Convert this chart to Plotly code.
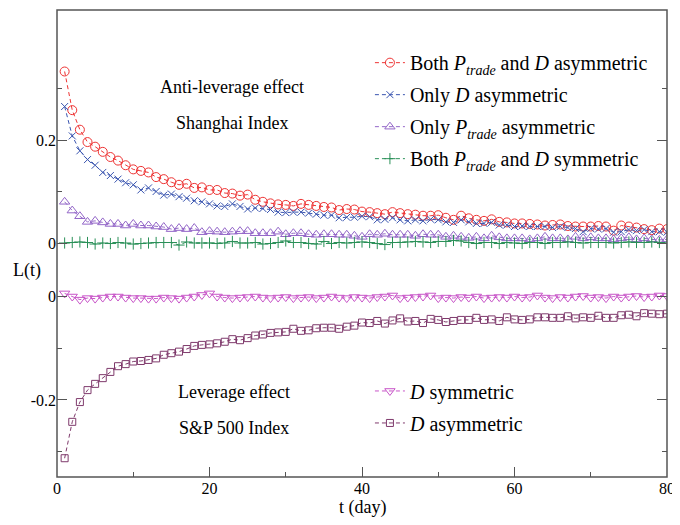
import plotly.graph_objects as go

t = list(range(1, 81))

# Shanghai index (anti-leverage effect), top panel
both_asym = [0.333, 0.258, 0.220, 0.196, 0.187, 0.177, 0.167, 0.160, 0.151, 0.143,
             0.140, 0.137, 0.128, 0.124, 0.118, 0.113, 0.115, 0.107, 0.108, 0.103,
             0.103, 0.097, 0.096, 0.092, 0.094, 0.084, 0.080, 0.077, 0.075, 0.074,
             0.072, 0.076, 0.074, 0.072, 0.070, 0.069, 0.064, 0.066, 0.065, 0.061,
             0.060, 0.058, 0.056, 0.060, 0.058, 0.056, 0.055, 0.053, 0.053, 0.054,
             0.049, 0.045, 0.053, 0.048, 0.045, 0.043, 0.046, 0.041, 0.040, 0.038,
             0.038, 0.037, 0.036, 0.034, 0.035, 0.036, 0.033, 0.032, 0.032, 0.032,
             0.033, 0.032, 0.024, 0.034, 0.032, 0.030, 0.027, 0.025, 0.028, 0.027]
only_d_asym = [0.265, 0.208, 0.179, 0.162, 0.151, 0.137, 0.131, 0.124, 0.117, 0.113,
               0.103, 0.107, 0.100, 0.093, 0.095, 0.090, 0.087, 0.082, 0.080, 0.076,
               0.072, 0.071, 0.076, 0.071, 0.066, 0.068, 0.067, 0.065, 0.060, 0.059,
               0.060, 0.060, 0.058, 0.056, 0.054, 0.054, 0.049, 0.050, 0.050, 0.052,
               0.051, 0.045, 0.046, 0.049, 0.045, 0.043, 0.045, 0.043, 0.046, 0.045,
               0.041, 0.040, 0.045, 0.041, 0.038, 0.038, 0.040, 0.035, 0.035, 0.032,
               0.033, 0.032, 0.032, 0.032, 0.030, 0.032, 0.030, 0.028, 0.022, 0.028,
               0.027, 0.028, 0.021, 0.022, 0.026, 0.024, 0.026, 0.022, 0.022, 0.021]
only_p_asym = [0.080, 0.063, 0.052, 0.041, 0.043, 0.040, 0.037, 0.037, 0.034, 0.037,
               0.034, 0.034, 0.032, 0.031, 0.027, 0.029, 0.027, 0.029, 0.021, 0.023,
               0.022, 0.021, 0.022, 0.023, 0.023, 0.019, 0.019, 0.019, 0.022, 0.017,
               0.019, 0.019, 0.017, 0.016, 0.017, 0.017, 0.016, 0.016, 0.014, 0.012,
               0.017, 0.016, 0.018, 0.016, 0.016, 0.016, 0.014, 0.017, 0.016, 0.016,
               0.012, 0.014, 0.012, 0.010, 0.012, 0.009, 0.014, 0.011, 0.009, 0.009,
               0.009, 0.007, 0.009, 0.012, 0.009, 0.009, 0.007, 0.012, 0.009, 0.011,
               0.009, 0.009, 0.007, 0.009, 0.011, 0.007, 0.009, 0.007, 0.006, 0.007]
both_sym = [0.000, 0.001, 0.002, 0.001, -0.002, 0.000, -0.001, 0.001, 0.000, -0.002,
            -0.001, 0.000, 0.001, 0.001, 0.001, -0.004, 0.002, 0.000, 0.000, 0.000,
            -0.001, 0.000, 0.003, 0.000, 0.000, 0.001, -0.002, -0.001, 0.001, 0.004,
            0.001, 0.001, -0.001, -0.002, 0.003, -0.001, 0.001, 0.000, 0.001, 0.002,
            0.001, -0.001, -0.003, 0.001, 0.001, 0.002, 0.003, 0.002, 0.001, 0.003,
            0.003, 0.005, 0.004, 0.001, -0.001, 0.001, 0.001, -0.001, 0.001, 0.000,
            -0.001, 0.001, 0.001, -0.001, 0.001, 0.001, 0.002, 0.001, 0.000, 0.001,
            0.001, 0.001, 0.000, 0.001, 0.002, 0.001, 0.001, 0.002, 0.001, 0.000]

# S&P 500 (leverage effect), bottom panel
d_sym = [0.005, -0.001, -0.007, -0.004, -0.005, -0.003, -0.001, -0.001, -0.003, -0.004,
         -0.004, -0.005, -0.005, -0.003, -0.004, -0.005, -0.003, -0.001, 0.002, 0.005,
         -0.001, -0.003, -0.004, -0.003, -0.002, -0.001, -0.003, -0.004, -0.003, -0.002,
         -0.004, -0.003, -0.002, -0.004, -0.003, -0.001, -0.003, -0.004, -0.002, -0.003,
         -0.004, -0.002, -0.001, 0.001, -0.004, -0.003, -0.002, -0.001, 0.001, -0.004,
         -0.003, -0.004, -0.002, -0.003, -0.001, -0.004, -0.003, -0.002, -0.003, -0.001,
         -0.003, -0.002, 0.001, -0.003, -0.004, -0.002, -0.003, -0.001, 0.000, -0.003,
         -0.002, -0.004, -0.001, -0.003, -0.001, 0.000, -0.002, -0.001, 0.001, 0.000]
d_asym = [-0.312, -0.242, -0.204, -0.181, -0.169, -0.158, -0.146, -0.135, -0.131, -0.126,
          -0.125, -0.123, -0.120, -0.113, -0.110, -0.107, -0.102, -0.096, -0.094, -0.093,
          -0.091, -0.088, -0.083, -0.085, -0.081, -0.076, -0.074, -0.071, -0.070, -0.069,
          -0.063, -0.067, -0.066, -0.062, -0.061, -0.061, -0.063, -0.059, -0.057, -0.051,
          -0.052, -0.048, -0.053, -0.047, -0.043, -0.049, -0.048, -0.052, -0.044, -0.046,
          -0.050, -0.048, -0.046, -0.046, -0.042, -0.046, -0.045, -0.048, -0.041, -0.045,
          -0.046, -0.045, -0.041, -0.041, -0.042, -0.042, -0.039, -0.043, -0.041, -0.042,
          -0.038, -0.042, -0.042, -0.037, -0.036, -0.039, -0.033, -0.034, -0.035, -0.034]

PT = "<i>P</i><sub><i>trade</i></sub>"
serif = "Liberation Serif, Times New Roman, serif"

fig = go.Figure()

top = [
    (both_asym, "Both " + PT + " and <i>D</i> asymmetric", "circle-open", 9, "#ee3333"),
    (only_d_asym, "Only <i>D</i> asymmetric", "x-thin-open", 7, "#3a55b0"),
    (only_p_asym, "Only " + PT + " asymmetric", "triangle-up-open", 9, "#9366c8"),
    (both_sym, "Both " + PT + " and <i>D</i> symmetric", "cross-thin-open", 8, "#2a9058"),
]
for i, (ys, name, sym, sz, col) in enumerate(top):
    fig.add_trace(go.Scatter(
        x=t, y=ys, name=name, yaxis="y2", legend="legend", legendgroup="a%d" % i,
        mode="lines+markers",
        line=dict(color=col, width=1, dash="4px,3px"),
        marker=dict(symbol=sym, size=sz, color=col, line=dict(width=1, color=col)),
    ))

bottom = [
    (d_sym, "<i>D</i> symmetric", "triangle-down-open", 9, "#c855c8"),
    (d_asym, "<i>D</i> asymmetric", "square-open", 7, "#7f3a6c"),
]
for i, (ys, name, sym, sz, col) in enumerate(bottom):
    fig.add_trace(go.Scatter(
        x=t, y=ys, name=name, yaxis="y", legend="legend2", legendgroup="b%d" % i,
        mode="lines+markers",
        line=dict(color=col, width=1, dash="4px,3px"),
        marker=dict(symbol=sym, size=sz, color=col, line=dict(width=1, color=col)),
    ))

# the page has an 8px body margin, so the figure is shifted by 8px
split = 207 / 467
axcol = "#555555"
tickfont = dict(family=serif, size=16, color="black")

yax_common = dict(
    ticks="inside", ticklen=10, tickwidth=1.3, tickcolor=axcol, mirror="ticks",
    showgrid=False, zeroline=False, showline=False, tickfont=tickfont,
    minor=dict(ticks="inside", ticklen=5, tickwidth=1.3, tickcolor=axcol, showgrid=False),
)

fig.update_layout(
    width=672, height=509,
    margin=dict(l=49, r=13, t=2, b=40),
    font=dict(family=serif, color="black"),
    plot_bgcolor="white", paper_bgcolor="white",
    xaxis=dict(range=[0, 80], tickvals=[0, 20, 40, 60, 80], ticks="inside", ticklen=10,
               tickwidth=1.3, tickcolor=axcol, showgrid=False, zeroline=False,
               showline=False, tickfont=tickfont, anchor="y", ticklabeloverflow="allow",
               minor=dict(tickvals=[10, 30, 50, 70], ticks="inside", ticklen=5,
                          tickwidth=1.3, tickcolor=axcol, showgrid=False)),
    xaxis2=dict(range=[0, 80], overlaying="x", side="top", anchor="y2",
                tickvals=[0, 20, 40, 60, 80], ticks="inside", ticklen=10,
                tickwidth=1.3, tickcolor=axcol, showticklabels=False,
                showgrid=False, zeroline=False, showline=False,
                minor=dict(tickvals=[10, 30, 50, 70], ticks="inside", ticklen=5,
                           tickwidth=1.3, tickcolor=axcol, showgrid=False)),
    yaxis=dict(domain=[0, split], range=[-0.3481, 0.05], tickvals=[-0.2, 0],
               ticktext=["-0.2", "0"], **yax_common),
    yaxis2=dict(domain=[split, 1], range=[-0.0524, 0.4524], tickvals=[0, 0.2],
                ticktext=["0", "0.2"], anchor="x", **yax_common),
    showlegend=True,
    legend=dict(x=0.513, xanchor="left", y=0.929, yanchor="top",
                bgcolor="rgba(0,0,0,0)", font=dict(family=serif, size=20, color="black"),
                itemwidth=30, tracegroupgap=3),
    legend2=dict(x=0.513, xanchor="left", y=0.226, yanchor="top",
                 bgcolor="rgba(0,0,0,0)", font=dict(family=serif, size=20, color="black"),
                 itemwidth=30, tracegroupgap=3),
)
fig.layout.yaxis.minor.tickvals = [-0.3, -0.1]
fig.layout.yaxis2.minor.tickvals = [0.1, 0.3]

fig.add_shape(type="rect", xref="paper", yref="paper", x0=0, x1=1, y0=0, y1=1,
              line=dict(color=axcol, width=1.5), layer="above")

notes = [
    ("Anti-leverage effect", 0.287, 0.835),
    ("Shanghai Index", 0.287, 0.758),
    ("Leverage effect", 0.290, 0.182),
    ("S&P 500 Index", 0.290, 0.105),
]
for txt, ax, ay in notes:
    fig.add_annotation(text=txt, x=ax, y=ay, xref="paper", yref="paper",
                       xanchor="center", yanchor="middle", showarrow=False,
                       font=dict(family=serif, size=18, color="black"))

fig.add_annotation(text="L(t)", x=-0.049, y=split, xref="paper", yref="paper",
                   xanchor="center", yanchor="middle", showarrow=False,
                   font=dict(family=serif, size=18, color="black"))
fig.add_annotation(text="t (day)", x=0.5, y=-0.066, xref="paper", yref="paper",
                   xanchor="center", yanchor="middle", showarrow=False,
                   font=dict(family=serif, size=18, color="black"))

fig.write_html("out.html")
